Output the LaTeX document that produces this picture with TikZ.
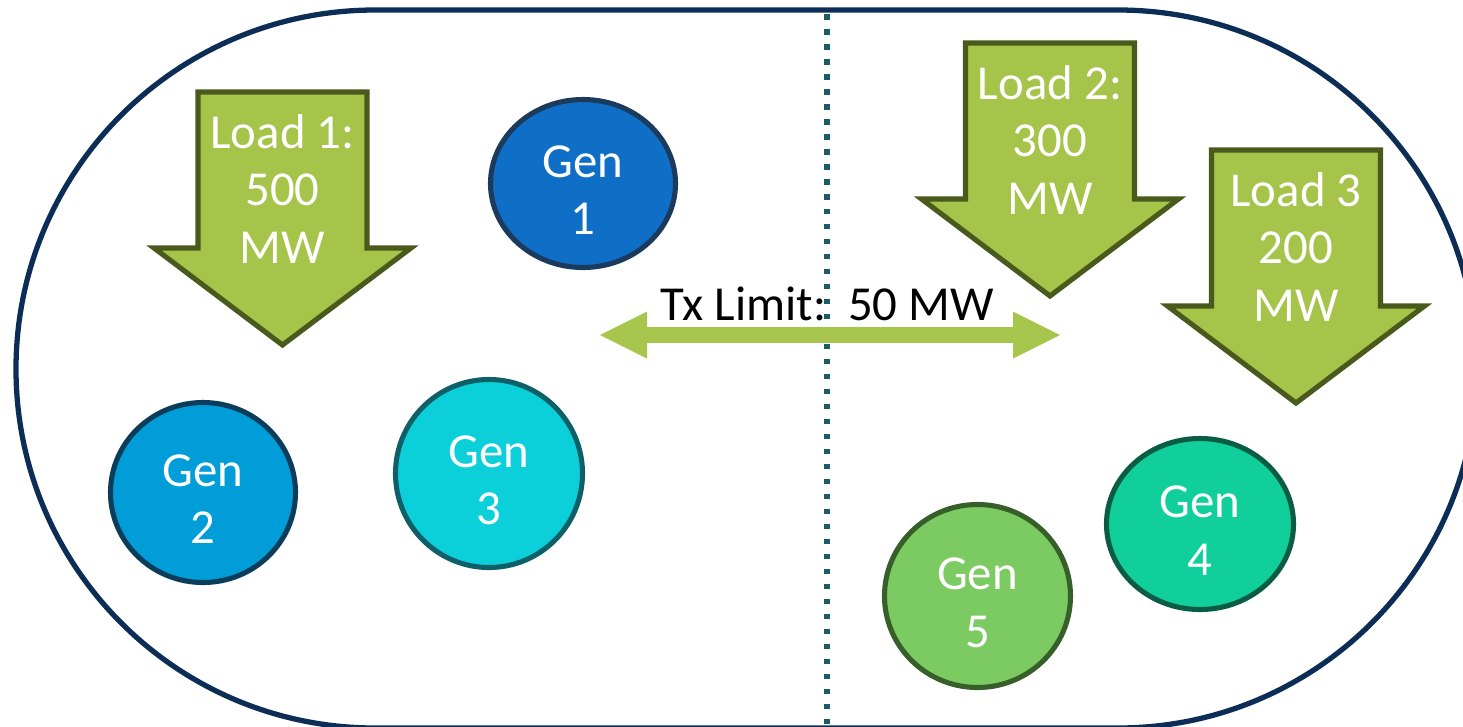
\documentclass[tikz,border=0pt]{standalone}
\usepackage{fontspec}
\setmainfont{Carlito}
\usepackage{xcolor}
\usepackage{tikz}
\usetikzlibrary{shapes.geometric,arrows.meta}
\definecolor{zoneline}{HTML}{0B2D56}
\definecolor{seamline}{HTML}{1B5C68}
\definecolor{loadgreen}{HTML}{A6C34A}
\definecolor{loadline}{HTML}{4A5A1D}
\definecolor{txgreen}{HTML}{A8C54E}
\definecolor{genblue}{HTML}{0F6FC6}
\definecolor{genblueline}{HTML}{1B3A5C}
\definecolor{gensky}{HTML}{009DD9}
\definecolor{genskyline}{HTML}{0B3D5B}
\definecolor{genaqua}{HTML}{0BD0D9}
\definecolor{genaqualine}{HTML}{0E6068}
\definecolor{genteal}{HTML}{10CF9B}
\definecolor{gentealline}{HTML}{0B5C45}
\definecolor{genlime}{HTML}{7CCA62}
\definecolor{genlimeline}{HTML}{375F2A}
% load arrow: name, x of centre, y of top, text
\newcommand{\loadarrow}[4]{%
\filldraw[loadbox] (#2-0.845,#3) -- (#2+0.845,#3) -- (#2+0.845,#3-1.56) -- (#2+1.285,#3-1.56)
  -- (#2,#3-2.53) -- (#2-1.285,#3-1.56) -- (#2-0.845,#3-1.56) -- cycle;
\node[loadtext] (#1) at (#2,#3-0.97) {#4};}
% two-line generator label, sitting a little low like the slide
\newcommand{\genlabel}[1]{\rule{0pt}{0.45cm}Gen\\#1}

\begin{document}
\begin{tikzpicture}[
  every node/.style={font=\fontsize{13.9}{16.35}\selectfont},
  loadbox/.style={fill=loadgreen,draw=loadline,line width=1.45pt},
  loadtext/.style={text=white,align=center},
  gen/.style={ellipse,line width=1.45pt,text=white,align=center,inner sep=0pt}]
\useasboundingbox (0,0) rectangle (14.63,7.26);
% zone border
\draw[zoneline,line width=1.5pt] (3.75,7.16) -- (11.18,7.16) arc[start angle=90,end angle=-90,radius=3.59]
  -- (3.75,-0.02) arc[start angle=270,end angle=90,radius=3.59] -- cycle;
% seam between the two areas
\draw[seamline,line width=1.6pt,dash pattern=on 0.055cm off 0.095cm] (8.27,7.12) -- (8.27,0);
%
\loadarrow{load1}{2.825}{6.34}{Load 1:\\500\\MW}
\loadarrow{load2}{10.50}{6.83}{Load 2:\\300\\MW}
\loadarrow{load3}{12.96}{5.76}{Load 3\\200\\MW}
%
\node[gen,fill=genblue,draw=genblueline,minimum width=1.85cm,minimum height=1.68cm] (gen1) at (5.83,5.425) {\genlabel{1}};
\node[gen,fill=gensky,draw=genskyline,minimum width=1.85cm,minimum height=1.80cm] (gen2) at (2.03,2.335) {\genlabel{2}};
\node[gen,fill=genaqua,draw=genaqualine,minimum width=1.87cm,minimum height=1.88cm] (gen3) at (4.89,2.525) {\genlabel{3}};
\node[gen,fill=genteal,draw=gentealline,minimum width=1.87cm,minimum height=1.71cm] (gen4) at (12.00,2.02) {\genlabel{4}};
\node[gen,fill=genlime,draw=genlimeline,minimum width=1.86cm,minimum height=1.83cm] (gen5) at (9.775,1.30) {\genlabel{5}};
%
\coordinate (txwest) at (6.00,3.91);
\coordinate (txeast) at (10.60,3.91);
\draw[txgreen,line width=0.16cm,{Triangle[length=0.47cm,width=0.47cm,line width=0pt]}-{Triangle[length=0.47cm,width=0.47cm,line width=0pt]}] (txwest) -- (txeast);
\node[anchor=base] (txlimit) at (8.275,4.06) {Tx Limit:\ \ 50 MW};
\end{tikzpicture}
\end{document}
